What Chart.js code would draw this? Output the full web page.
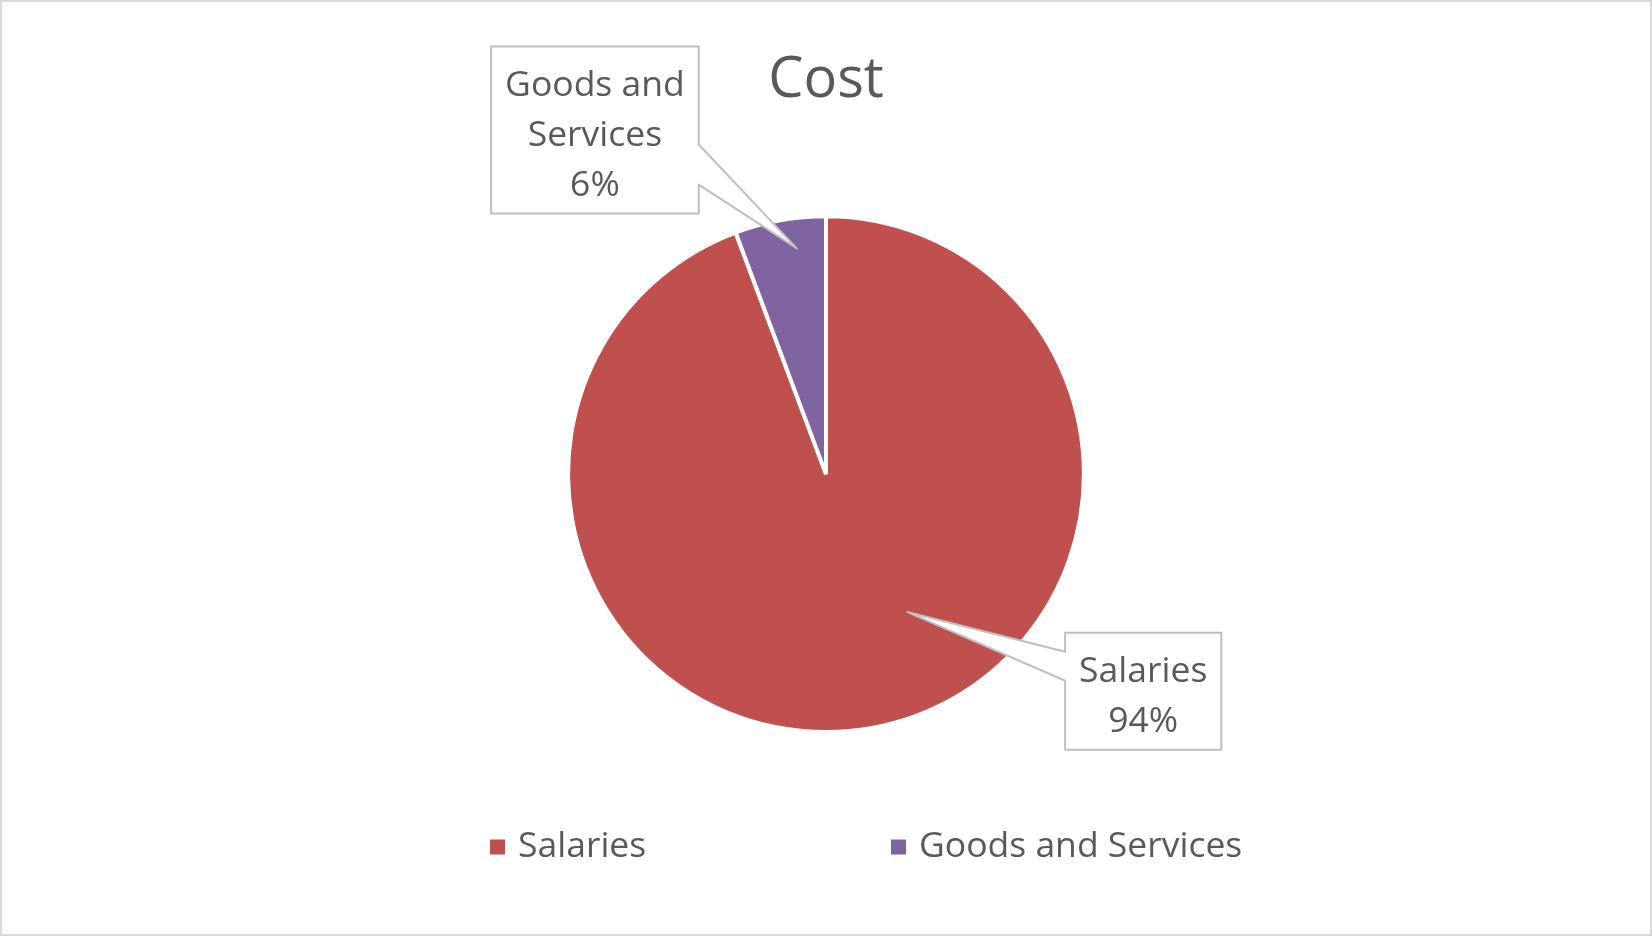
<!DOCTYPE html>
<html>
<head>
<meta charset="utf-8">
<script src="https://cdn.jsdelivr.net/npm/chart.js@4"></script>
<style>
html, body { margin: 0; padding: 0; background: #fff; }
</style>
</head>
<body>
<canvas id="costChart" width="1652" height="936"></canvas>
<script>
const categories = ['Salaries', 'Goods and Services'];
const costShares = [94.3, 5.7];
const sliceColors = ['#C0504D', '#8064A2'];

const textColor = '#595959';
const fontFamily = "'Open Sans', 'Liberation Sans', sans-serif";

// callout placement, as offsets from the pie centre in radii
const callouts = [
    { tip: [0.316, 0.535], box: [1.230, 0.842], side: 'left', notch: [19, 48] },
    { tip: [-0.113, -0.875], box: [-0.896, -1.334], side: 'right', notch: [98, 138] }
];

function wrapText(ctx, text, maxWidth) {
    const words = text.split(' ');
    const lines = [];
    let line = '';
    words.forEach(w => {
        const test = line ? line + ' ' + w : w;
        if (line && ctx.measureText(test).width > maxWidth) {
            lines.push(line);
            line = w;
        } else {
            line = test;
        }
    });
    lines.push(line);
    return lines;
}

// white page with thin grey frame
const framePlugin = {
    id: 'frame',
    beforeDraw(chart) {
        const c = chart.ctx;
        c.save();
        c.fillStyle = '#fff';
        c.fillRect(0, 0, chart.width, chart.height);
        c.strokeStyle = '#d9d9d9';
        c.lineWidth = 2;
        c.strokeRect(1, 1, chart.width - 2, chart.height - 2);
        c.restore();
    }
};

// Excel style callout labels
const calloutPlugin = {
    id: 'callouts',
    afterDraw(chart) {
        const c = chart.ctx;
        const meta = chart.getDatasetMeta(0);
        const arc0 = meta.data[0];
        const cx = arc0.x, cy = arc0.y, r = arc0.outerRadius;
        const total = costShares.reduce((a, b) => a + b, 0);
        c.save();
        c.font = '35.5px ' + fontFamily;
        categories.forEach((name, i) => {
            const co = callouts[i];
            const lines = wrapText(c, name, 200);
            lines.push(Math.round(costShares[i] / total * 100) + '%');
            const tw = Math.max(...lines.map(l => c.measureText(l).width));
            const w = tw + 28, h = lines.length * 50 + 17;
            const bx = cx + co.box[0] * r, by = cy + co.box[1] * r;
            const x0 = bx - w / 2, y0 = by - h / 2, x1 = bx + w / 2, y1 = by + h / 2;
            const tx = cx + co.tip[0] * r, ty = cy + co.tip[1] * r;
            c.beginPath();
            if (co.side === 'left') {
                c.moveTo(x0, y0);
                c.lineTo(x1, y0);
                c.lineTo(x1, y1);
                c.lineTo(x0, y1);
                c.lineTo(x0, y0 + co.notch[1]);
                c.lineTo(tx, ty);
                c.lineTo(x0, y0 + co.notch[0]);
            } else {
                c.moveTo(x0, y0);
                c.lineTo(x1, y0);
                c.lineTo(x1, y0 + co.notch[0]);
                c.lineTo(tx, ty);
                c.lineTo(x1, y0 + co.notch[1]);
                c.lineTo(x1, y1);
                c.lineTo(x0, y1);
            }
            c.closePath();
            c.fillStyle = '#fff';
            c.fill();
            c.strokeStyle = '#bfbfbf';
            c.lineWidth = 2;
            c.lineJoin = 'round';
            c.stroke();
            c.fillStyle = textColor;
            c.textAlign = 'center';
            c.textBaseline = 'alphabetic';
            lines.forEach((l, k) => c.fillText(l, bx, y0 + 49 + k * 50));
        });
        c.restore();
    }
};

// legend in wide columns under the pie
const legendPlugin = {
    id: 'wideLegend',
    afterDraw(chart) {
        const c = chart.ctx;
        const left = 490, column = 401, y = 847, box = 15;
        c.save();
        c.font = '35.5px ' + fontFamily;
        c.textBaseline = 'middle';
        c.textAlign = 'left';
        categories.forEach((name, i) => {
            const x = left + i * column;
            c.fillStyle = sliceColors[i];
            c.fillRect(x, y - box / 2, box, box);
            c.fillStyle = textColor;
            c.fillText(name, x + box + 13, y);
        });
        c.restore();
    }
};

window.onload = function() {
    const ctx = document.getElementById('costChart').getContext('2d');
    new Chart(ctx, {
        type: 'pie',
        data: {
            labels: categories,
            datasets: [{
                data: costShares,
                backgroundColor: sliceColors,
                borderColor: '#fff',
                borderWidth: 4,
                hoverOffset: 0
            }]
        },
        options: {
            responsive: false,
            devicePixelRatio: 1,
            animation: false,
            layout: { padding: { top: 0, bottom: 202, left: 0, right: 0 } },
            plugins: {
                title: {
                    display: true,
                    text: 'Cost',
                    color: textColor,
                    font: { family: fontFamily, size: 56, weight: 'normal' },
                    padding: { top: 47, bottom: 100 }
                },
                legend: { display: false },
                tooltip: { enabled: false }
            }
        },
        plugins: [framePlugin, calloutPlugin, legendPlugin]
    });
};
</script>
</body>
</html>
